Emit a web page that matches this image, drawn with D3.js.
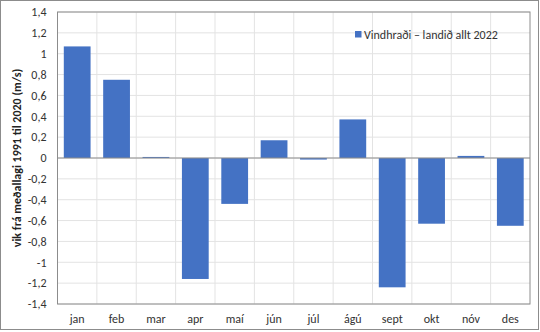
<!DOCTYPE html>
<html><head><meta charset="utf-8">
<script src="https://cdn.jsdelivr.net/npm/d3@7"></script>
<style>body{margin:0;background:#fff}svg{display:block}</style>
</head><body>
<script>
const categories = ["jan","feb","mar","apr","maí","jún","júl","ágú","sept","okt","nóv","des"];
const values = [1.07, 0.75, 0.01, -1.16, -0.44, 0.17, -0.015, 0.37, -1.24, -0.63, 0.02, -0.65];
const yTicks = [-1.4,-1.2,-1,-0.8,-0.6,-0.4,-0.2,0,0.2,0.4,0.6,0.8,1,1.2,1.4];
const seriesName = "Vindhraði – landið allt 2022";
const yLabel = "vik frá meðallagi 1991 til 2020 (m/s)";

const W = 540, H = 332;
const m = {l: 57.5, r: 10, t: 12, b: 28};
const font = "Carlito, Lato, 'Open Sans', sans-serif";
const svg = d3.select("body").append("svg").attr("width", W).attr("height", H);
svg.append("rect").attr("x",0.5).attr("y",0.5).attr("width",W-2).attr("height",H-3)
  .attr("fill","#fff").attr("stroke","#8c8c8c").attr("stroke-width",1);

const x = d3.scaleBand().domain(categories).range([m.l, W - m.r]).paddingInner(0.32).paddingOuter(0.16);
const y = d3.scaleLinear().domain([-1.4, 1.4]).range([H - m.b, m.t]);

// grid horizontal
svg.append("g").selectAll("line").data(yTicks).join("line")
  .attr("x1", m.l).attr("x2", W - m.r).attr("y1", d => y(d)).attr("y2", d => y(d))
  .attr("stroke", "#e3e3e3").attr("stroke-width", 1);
// grid vertical at category boundaries
const bounds = d3.range(1, categories.length).map(i => m.l + i * (W - m.r - m.l) / categories.length);
svg.append("g").selectAll("line").data(bounds).join("line")
  .attr("x1", d => d).attr("x2", d => d).attr("y1", m.t).attr("y2", H - m.b)
  .attr("stroke", "#e3e3e3").attr("stroke-width", 1);

// bars
svg.append("g").selectAll("rect").data(values).join("rect")
  .attr("x", (d, i) => x(categories[i]))
  .attr("width", x.bandwidth())
  .attr("y", d => y(Math.max(0, d)))
  .attr("height", d => Math.max(1, Math.abs(y(d) - y(0))))
  .attr("fill", "#4472c4");

// plot border
svg.append("rect").attr("x", m.l).attr("y", m.t).attr("width", W - m.r - m.l).attr("height", H - m.b - m.t)
  .attr("fill", "none").attr("stroke", "#8c8c8c").attr("stroke-width", 1);
// zero line
svg.append("line").attr("x1", m.l).attr("x2", W - m.r).attr("y1", y(0)).attr("y2", y(0))
  .attr("stroke", "#8c8c8c").attr("stroke-width", 1);

// y axis
const ya = d3.axisLeft(y).tickValues(yTicks).tickSize(0).tickPadding(11).tickFormat(d => d === 0 ? "0" : String(d).replace(".", ","));
const yg = svg.append("g").attr("transform", `translate(${m.l},0)`).call(ya);
yg.select(".domain").remove();
yg.selectAll("text").attr("font-family", font).attr("font-size", 12).attr("fill", "#333");

// x axis
const xa = d3.axisBottom(x).tickSize(0).tickPadding(10);
const xg = svg.append("g").attr("transform", `translate(0,${H - m.b})`).call(xa);
xg.select(".domain").remove();
xg.selectAll("text").attr("font-family", font).attr("font-size", 12).attr("fill", "#333");

// y label
svg.append("text").attr("transform", `translate(21,${(m.t + H - m.b) / 2}) rotate(-90)`)
  .attr("text-anchor", "middle").attr("font-family", font).attr("font-size", 12).attr("font-weight", "bold")
  .attr("fill", "#222").text(yLabel);

// legend
const lg = svg.append("g").attr("transform", "translate(355,31)");
lg.append("rect").attr("width", 6.5).attr("height", 6.5).attr("fill", "#4472c4");
lg.append("text").attr("x", 9).attr("y", 7.5).attr("font-family", font).attr("font-size", 12).attr("fill", "#333").text(seriesName);
</script>
</body></html>
